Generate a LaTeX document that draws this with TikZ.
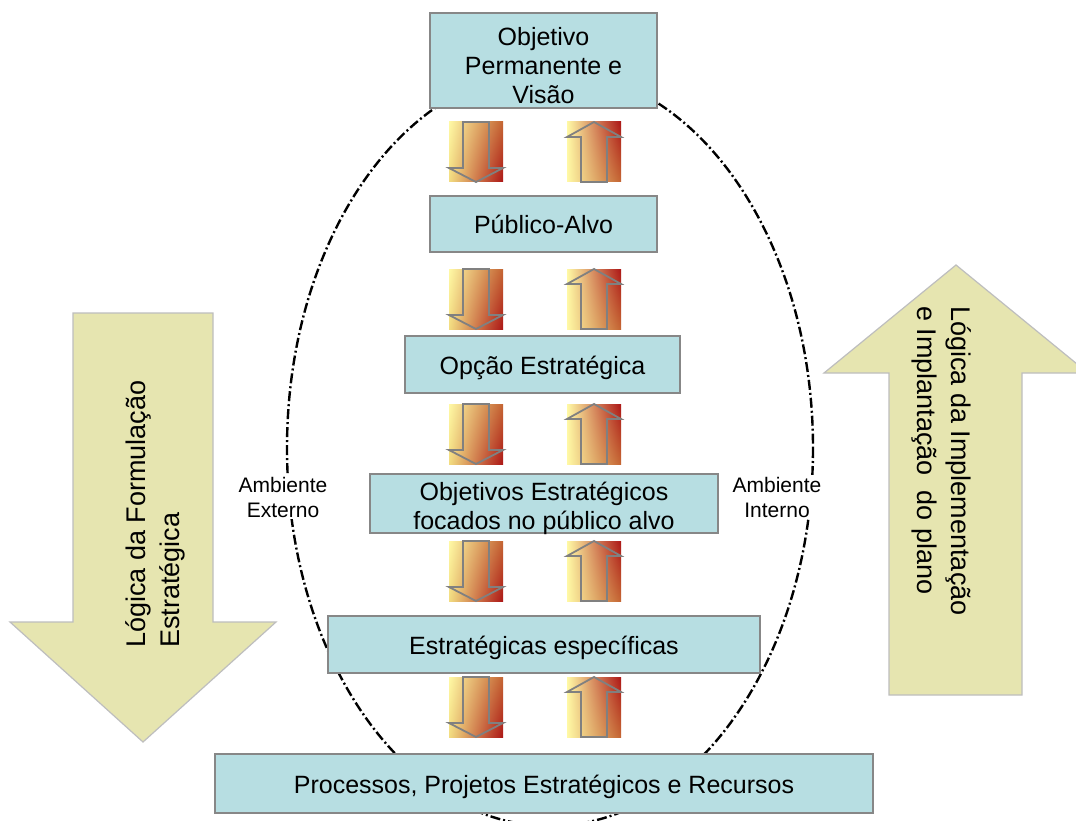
\documentclass[tikz,border=0pt]{standalone}
\usepackage{fontspec}
\setmainfont{Liberation Sans}
\usetikzlibrary{shadings}
\begin{document}
\definecolor{boxfill}{RGB}{183,222,226}
\definecolor{boxline}{RGB}{135,135,135}
\definecolor{bigfill}{RGB}{230,229,176}
\definecolor{bigline}{RGB}{190,190,190}
\definecolor{gyel}{RGB}{255,249,165}
\definecolor{gyel2}{RGB}{242,220,128}
\definecolor{gmid}{RGB}{196,100,50}
\definecolor{gred}{RGB}{172,22,22}
\definecolor{blkline}{RGB}{128,128,128}
\begin{tikzpicture}[x=1pt,y=-1pt,
  box/.style={draw=boxline,line width=1.6pt,fill=boxfill,inner sep=0pt},
  boxtext/.style={align=center,font=\fontsize{25}{29}\selectfont,inner sep=0pt,yshift=-4pt},
  bigarrow/.style={draw=bigline,line width=1.2pt,fill=bigfill},
  bigtext/.style={align=left,font=\fontsize{27}{34}\selectfont,inner sep=0pt},
  envtext/.style={fill=white,align=center,font=\fontsize{21}{25}\selectfont,inner sep=2pt},
  orbit/.style={line width=2.4pt,dash pattern=on 10pt off 3pt on 2pt off 3pt},
  blkline/.style={draw=blkline,line width=1.8pt,line join=miter},
  pics/dnblk/.style={code={
    \shade[upper left=gyel,lower left=gyel2,upper right=gmid,lower right=gred]
      (0,0) rectangle (54,60);
    \draw[blkline] (14,0) -- (40,0) -- (40,46) -- (54,46) -- (27,60) -- (0,46)
      -- (14,46) -- cycle;
  }},
  pics/upblk/.style={code={
    \shade[upper left=gyel,lower left=gyel,upper right=gred,lower right=gmid]
      (0,0) rectangle (54,60);
    \draw[blkline] (14,60) -- (40,60) -- (40,15) -- (54,15) -- (27,0) -- (0,15)
      -- (14,15) -- cycle;
  }}
]
\useasboundingbox (0,0) rectangle (1076,821);
\clip (0,0) rectangle (1076,821);
\fill[white] (0,0) rectangle (1076,821);

% environment boundary
\draw[orbit] (550,448) ellipse [x radius=263, y radius=378];

% large side arrows
\draw[bigarrow] (73,313) -- (213,313) -- (213,622) -- (276,622) -- (143,742)
  -- (10,622) -- (73,622) -- cycle;
\node[bigtext,rotate=90] (formul) at (155,514)
  {Lógica da Formulação\\Estratégica};
\draw[bigarrow] (889,695) -- (1022,695) -- (1022,373) -- (1088,373) -- (956,265)
  -- (824,373) -- (889,373) -- cycle;
\node[bigtext,rotate=-90] (implem) at (942,461)
  {Lógica da Implementação\\e Implantação\ \ do plano};

% environment labels
\node[envtext] (ext) at (283,497) {Ambiente\\Externo};
\node[envtext] (int) at (777,497) {Ambiente\\Interno};

% levels of the plan: frame first, then its caption
\node[box,minimum width=227pt,minimum height=95pt] (b1) at (543.5,60.5) {};
\node[boxtext] (t1) at (b1) {\strut Objetivo\\Permanente e\\Visão};
\node[box,minimum width=227pt,minimum height=56pt] (b2) at (543.5,224) {};
\node[boxtext] (t2) at (b2) {\strut Público-Alvo};
\node[box,minimum width=275pt,minimum height=57pt] (b3) at (542.5,364.5) {};
\node[boxtext] (t3) at (b3) {\strut Opção Estratégica};
\node[box,minimum width=348pt,minimum height=59pt] (b4) at (544,503.5) {};
\node[boxtext] (t4) at (b4) {\strut Objetivos Estratégicos\\focados no público alvo};
\node[box,minimum width=432pt,minimum height=57pt] (b5) at (544,644.5) {};
\node[boxtext] (t5) at (b5) {\strut Estratégicas específicas};
\node[box,minimum width=658pt,minimum height=59pt] (b6) at (544,783.5) {};
\node[boxtext] (t6) at (b6) {\strut Processos, Projetos Estratégicos e Recursos};

% block arrows between levels
\foreach \t in {122,269,404,541,677}{
  \pic at (449,\t) {dnblk};
  \pic at (567,\t) {upblk};
}
\end{tikzpicture}
\end{document}
